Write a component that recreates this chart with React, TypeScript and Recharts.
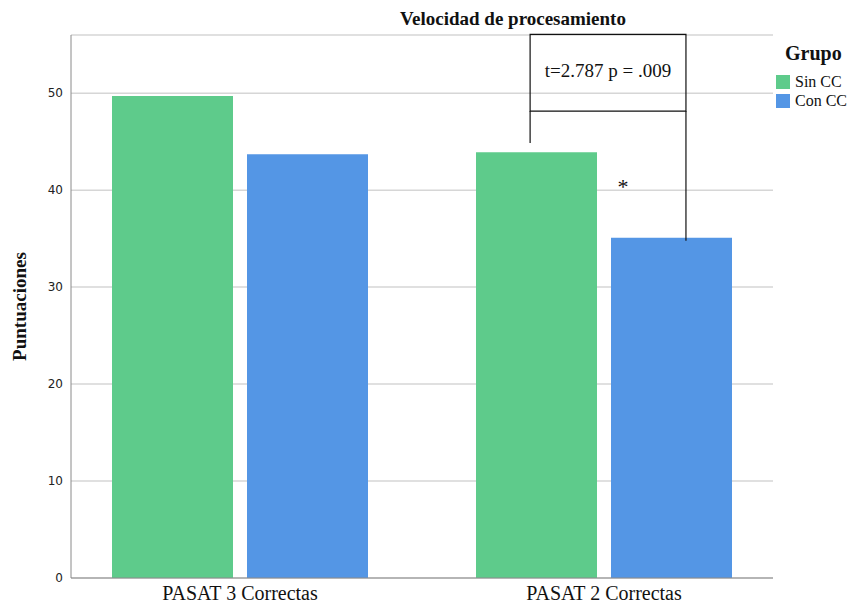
import {
  BarChart,
  Bar,
  XAxis,
  YAxis,
  CartesianGrid,
  ReferenceArea,
  ReferenceLine,
  ReferenceDot,
} from "recharts";

const categories = ["PASAT 3 Correctas", "PASAT 2 Correctas"];
const sinCC = [49.7, 43.9];
const conCC = [43.7, 35.1];
const yTicks = [0, 10, 20, 30, 40, 50];

const seriesNames = ["Sin CC", "Con CC"];
const seriesColors = ["#5ecb8b", "#5496e5"];

// annotation (t-test bracket), in data units on a hidden numeric x axis [0, 2]
const boxX = [1.308, 1.752];
const boxY = [48.15, 56.07];
const bracketEnds = [44.86, 34.77];
const starPos = { x: 1.573, y: 40.4 };
const testLabel = "t=2.787 p = .009";

const chartData = categories.map((name, i) => ({
  name,
  pos: i + 0.5,
  sin: sinCC[i],
  con: conCC[i],
}));

const serif = "'Liberation Serif', 'Times New Roman', serif";
const sans = "'DejaVu Sans', sans-serif";

function GroupLegend() {
  return (
    <div style={{ position: "absolute", left: 776, top: 40, fontFamily: serif, color: "#111" }}>
      <div style={{ fontWeight: "bold", fontSize: 20, lineHeight: "26px", marginLeft: 9, marginBottom: 6 }}>Grupo</div>
      {seriesNames.map((n, i) => (
        <div key={n} style={{ display: "flex", alignItems: "center", height: 19 }}>
          <span
            style={{
              width: 14,
              height: 14,
              background: seriesColors[i],
              display: "inline-block",
              marginRight: 5,
            }}
          />
          <span style={{ fontSize: 16 }}>{n}</span>
        </div>
      ))}
    </div>
  );
}

export default function App() {
  return (
    <div style={{ position: "absolute", left: 0, top: 0, width: 852, height: 606, background: "#fff" }}>
      <BarChart
        width={852}
        height={606}
        data={chartData}
        margin={{ top: 35, right: 79, left: 0, bottom: 0 }}
        barSize={121}
        barGap={14}
      >
        <CartesianGrid vertical={false} stroke="#d6d6d6" strokeWidth={1.5} />
        <XAxis
          dataKey="name"
          height={28}
          padding={{ left: -13, right: -13 }}
          tickLine={false}
          axisLine={{ stroke: "#8a8a8a" }}
          tick={{ fontFamily: serif, fontSize: 20, fill: "#111" }}
        />
        <XAxis xAxisId="num" dataKey="pos" type="number" domain={[0, 2]} allowDataOverflow hide />
        <YAxis
          width={71}
          domain={[0, 56]}
          ticks={yTicks}
          tickLine={false}
          axisLine={{ stroke: "#8a8a8a" }}
          tick={{ fontFamily: sans, fontSize: 12, fill: "#222" }}
          label={{
            value: "Puntuaciones",
            angle: -90,
            position: "insideLeft",
            offset: 19,
            style: { fontFamily: serif, fontWeight: "bold", fontSize: 19, fill: "#111", textAnchor: "middle" },
          }}
        />
        <Bar dataKey="sin" name={seriesNames[0]} fill={seriesColors[0]} isAnimationActive={false} />
        <Bar dataKey="con" name={seriesNames[1]} fill={seriesColors[1]} isAnimationActive={false} />
        <ReferenceArea
          xAxisId="num"
          x1={boxX[0]}
          x2={boxX[1]}
          y1={boxY[0]}
          y2={boxY[1]}
          fill="none"
          fillOpacity={0}
          stroke="#111"
          strokeWidth={1.2}
          ifOverflow="visible"
          label={{
            value: testLabel,
            position: "center",
            fontFamily: serif,
            fontSize: 19,
            fill: "#111",
            dy: -2,
          }}
        />
        <ReferenceLine
          xAxisId="num"
          segment={[
            { x: boxX[0], y: boxY[0] },
            { x: boxX[0], y: bracketEnds[0] },
          ]}
          stroke="#111"
          strokeWidth={1.2}
        />
        <ReferenceLine
          xAxisId="num"
          segment={[
            { x: boxX[1], y: boxY[0] },
            { x: boxX[1], y: bracketEnds[1] },
          ]}
          stroke="#111"
          strokeWidth={1.2}
        />
        <ReferenceDot
          xAxisId="num"
          x={starPos.x}
          y={starPos.y}
          r={0}
          stroke="none"
          label={{ value: "*", position: "center", fontFamily: serif, fontSize: 22, fill: "#111" }}
        />
      </BarChart>
      <div
        style={{
          position: "absolute",
          top: 8,
          left: 0,
          width: 1026,
          textAlign: "center",
          fontFamily: serif,
          fontWeight: "bold",
          fontSize: 19,
          color: "#111",
        }}
      >
        Velocidad de procesamiento
      </div>
      <GroupLegend />
    </div>
  );
}
